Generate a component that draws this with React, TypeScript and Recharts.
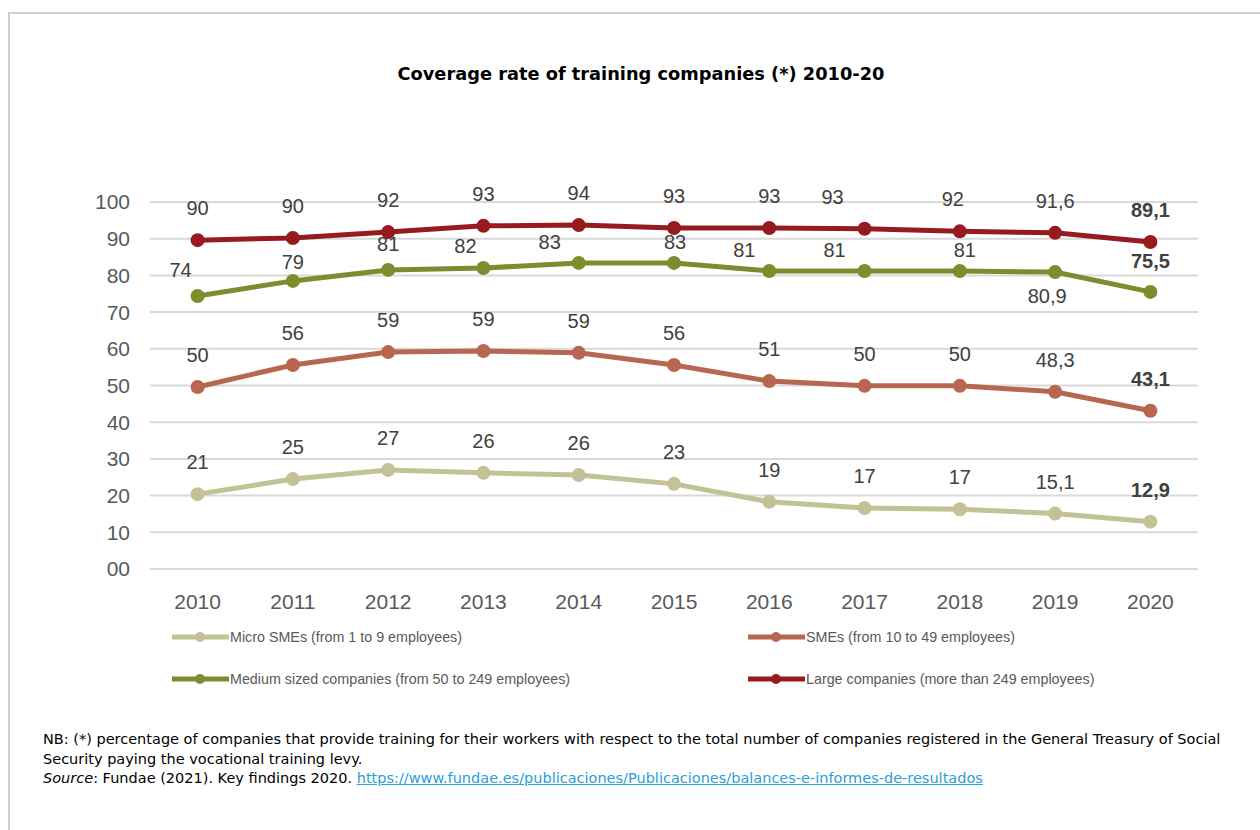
import { CartesianGrid, LabelList, Line, LineChart, XAxis, YAxis } from 'recharts';

const years = ['2010', '2011', '2012', '2013', '2014', '2015', '2016', '2017', '2018', '2019', '2020'];

const microValues = [20.4, 24.5, 27.0, 26.2, 25.6, 23.2, 18.3, 16.6, 16.3, 15.1, 12.9];
const microLabels = ['21', '25', '27', '26', '26', '23', '19', '17', '17', '15,1', '12,9'];

const smeValues = [49.6, 55.6, 59.1, 59.4, 58.9, 55.6, 51.2, 49.9, 49.9, 48.3, 43.1];
const smeLabels = ['50', '56', '59', '59', '59', '56', '51', '50', '50', '48,3', '43,1'];

const mediumValues = [74.4, 78.5, 81.5, 82.0, 83.4, 83.4, 81.2, 81.2, 81.2, 80.9, 75.5];
const mediumLabels = ['74', '79', '81', '82', '83', '83', '81', '81', '81', '80,9', '75,5'];

const largeValues = [89.6, 90.2, 91.8, 93.5, 93.7, 92.9, 92.9, 92.7, 92.0, 91.6, 89.1];
const largeLabels = ['90', '90', '92', '93', '94', '93', '93', '93', '92', '91,6', '89,1'];

const yTicks = [0, 10, 20, 30, 40, 50, 60, 70, 80, 90, 100];

// label nudges (Excel labels were dragged by hand in the original)
const mediumDx = [-17, 0, 0, -18, -29, 1, -25, -30, 5, -8, 0];
const mediumDy = [-26, -19, -26, -22, -21, -21, -21, -21, -21, 24, -31];
const largeDx = [0, 0, 0, 0, 0, 0, 0, -32, -7, 0, 0];

const data = years.map((year, i) => ({
  year,
  micro: microValues[i],
  sme: smeValues[i],
  medium: mediumValues[i],
  large: largeValues[i],
}));

const COLORS = {
  micro: '#c3c297',
  sme: '#b7674f',
  medium: '#7f8b2c',
  large: '#971b1e',
};

const FONT = '"Liberation Sans", Arial, sans-serif';
const LAST = years.length - 1;

function makeLabel(texts: string[], dx?: number[], dy?: number[], defDy = -32) {
  return (props: any) => {
    const { x, y, index } = props;
    const bold = index === LAST;
    return (
      <text
        x={x + (dx ? dx[index] : 0)}
        y={y + (dy ? dy[index] : defDy)}
        dy="0.35em"
        textAnchor="middle"
        fontFamily={FONT}
        fontSize={20}
        fontWeight={bold ? 'bold' : 'normal'}
        fill="#404040"
      >
        {texts[index]}
      </text>
    );
  };
}

const legendItems = [
  { name: 'Micro SMEs (from 1 to 9 employees)', color: COLORS.micro, left: 172, top: 637 },
  { name: 'SMEs (from 10 to 49 employees)', color: COLORS.sme, left: 748, top: 637 },
  { name: 'Medium sized companies (from 50 to 249 employees)', color: COLORS.medium, left: 172, top: 679 },
  { name: 'Large companies (more than 249 employees)', color: COLORS.large, left: 748, top: 679 },
];

export default function App() {
  return (
    <div style={{ position: 'absolute', left: 0, top: 0, width: 1260, height: 830, background: '#fff', overflow: 'hidden' }}>
      <div
        style={{
          position: 'absolute',
          left: 8,
          top: 12,
          width: 1260,
          height: 830,
          borderTop: '2px solid #d0d0d0',
          borderLeft: '2px solid #d0d0d0',
        }}
      />
      <div
        style={{
          position: 'absolute',
          left: 0,
          top: 63,
          width: 1282,
          textAlign: 'center',
          fontFamily: '"DejaVu Sans", sans-serif',
          fontWeight: 'bold',
          fontSize: 17.8,
          color: '#000',
        }}
      >
        Coverage rate of training companies (*) 2010-20
      </div>

      <div style={{ position: 'absolute', left: 0, top: 0 }}>
        <LineChart width={1260} height={640} data={data} margin={{ top: 202, right: 62, bottom: 31, left: 90 }}>
          <CartesianGrid vertical={false} stroke="#d9d9d9" strokeWidth={2} />
          <XAxis
            dataKey="year"
            axisLine={false}
            tickLine={false}
            tickSize={0}
            tickMargin={25}
            height={40}
            padding={{ left: 47.6, right: 47.6 }}
            tick={{ fill: '#595959', fontSize: 21, fontFamily: FONT }}
          />
          <YAxis
            domain={[0, 100]}
            ticks={yTicks}
            axisLine={false}
            tickLine={false}
            tickSize={0}
            tickMargin={20}
            width={60}
            tick={{ fill: '#595959', fontSize: 21, fontFamily: FONT }}
            tickFormatter={(v: number) => (v === 0 ? '00' : String(v))}
          />
          <Line
            dataKey="micro"
            stroke={COLORS.micro}
            strokeWidth={5}
            dot={{ r: 7, fill: COLORS.micro, stroke: 'none' }}
            activeDot={false}
            isAnimationActive={false}
          >
            <LabelList dataKey="micro" content={makeLabel(microLabels)} />
          </Line>
          <Line
            dataKey="sme"
            stroke={COLORS.sme}
            strokeWidth={5}
            dot={{ r: 7, fill: COLORS.sme, stroke: 'none' }}
            activeDot={false}
            isAnimationActive={false}
          >
            <LabelList dataKey="sme" content={makeLabel(smeLabels)} />
          </Line>
          <Line
            dataKey="medium"
            stroke={COLORS.medium}
            strokeWidth={5}
            dot={{ r: 7, fill: COLORS.medium, stroke: 'none' }}
            activeDot={false}
            isAnimationActive={false}
          >
            <LabelList dataKey="medium" content={makeLabel(mediumLabels, mediumDx, mediumDy)} />
          </Line>
          <Line
            dataKey="large"
            stroke={COLORS.large}
            strokeWidth={5}
            dot={{ r: 7, fill: COLORS.large, stroke: 'none' }}
            activeDot={false}
            isAnimationActive={false}
          >
            <LabelList dataKey="large" content={makeLabel(largeLabels, largeDx)} />
          </Line>
        </LineChart>
      </div>

      {legendItems.map((item) => (
        <div
          key={item.name}
          style={{
            position: 'absolute',
            left: item.left,
            top: item.top - 8,
            height: 16,
            display: 'flex',
            alignItems: 'center',
            fontFamily: FONT,
            fontSize: 14.3,
            color: '#595959',
            whiteSpace: 'nowrap',
          }}
        >
          <svg width={57} height={16} style={{ marginRight: 1 }}>
            <line x1={0} y1={8} x2={57} y2={8} stroke={item.color} strokeWidth={5} />
            <circle cx={28} cy={8} r={5} fill={item.color} />
          </svg>
          {item.name}
        </div>
      ))}

      <div
        style={{
          position: 'absolute',
          left: 43,
          top: 730,
          width: 1210,
          fontFamily: '"DejaVu Sans", sans-serif',
          fontSize: 14.5,
          lineHeight: '19.5px',
          color: '#000',
          whiteSpace: 'nowrap',
        }}
      >
        <div>
          NB: (*) percentage of companies that provide training for their workers with respect to the total number of companies registered in the General Treasury of Social
        </div>
        <div>Security paying the vocational training levy.</div>
        <div>
          <i>Source</i>: Fundae (2021). Key findings 2020.{' '}
          <span style={{ color: '#2a9fd8', textDecoration: 'underline' }}>
            https://www.fundae.es/publicaciones/Publicaciones/balances-e-informes-de-resultados
          </span>
        </div>
      </div>
    </div>
  );
}
